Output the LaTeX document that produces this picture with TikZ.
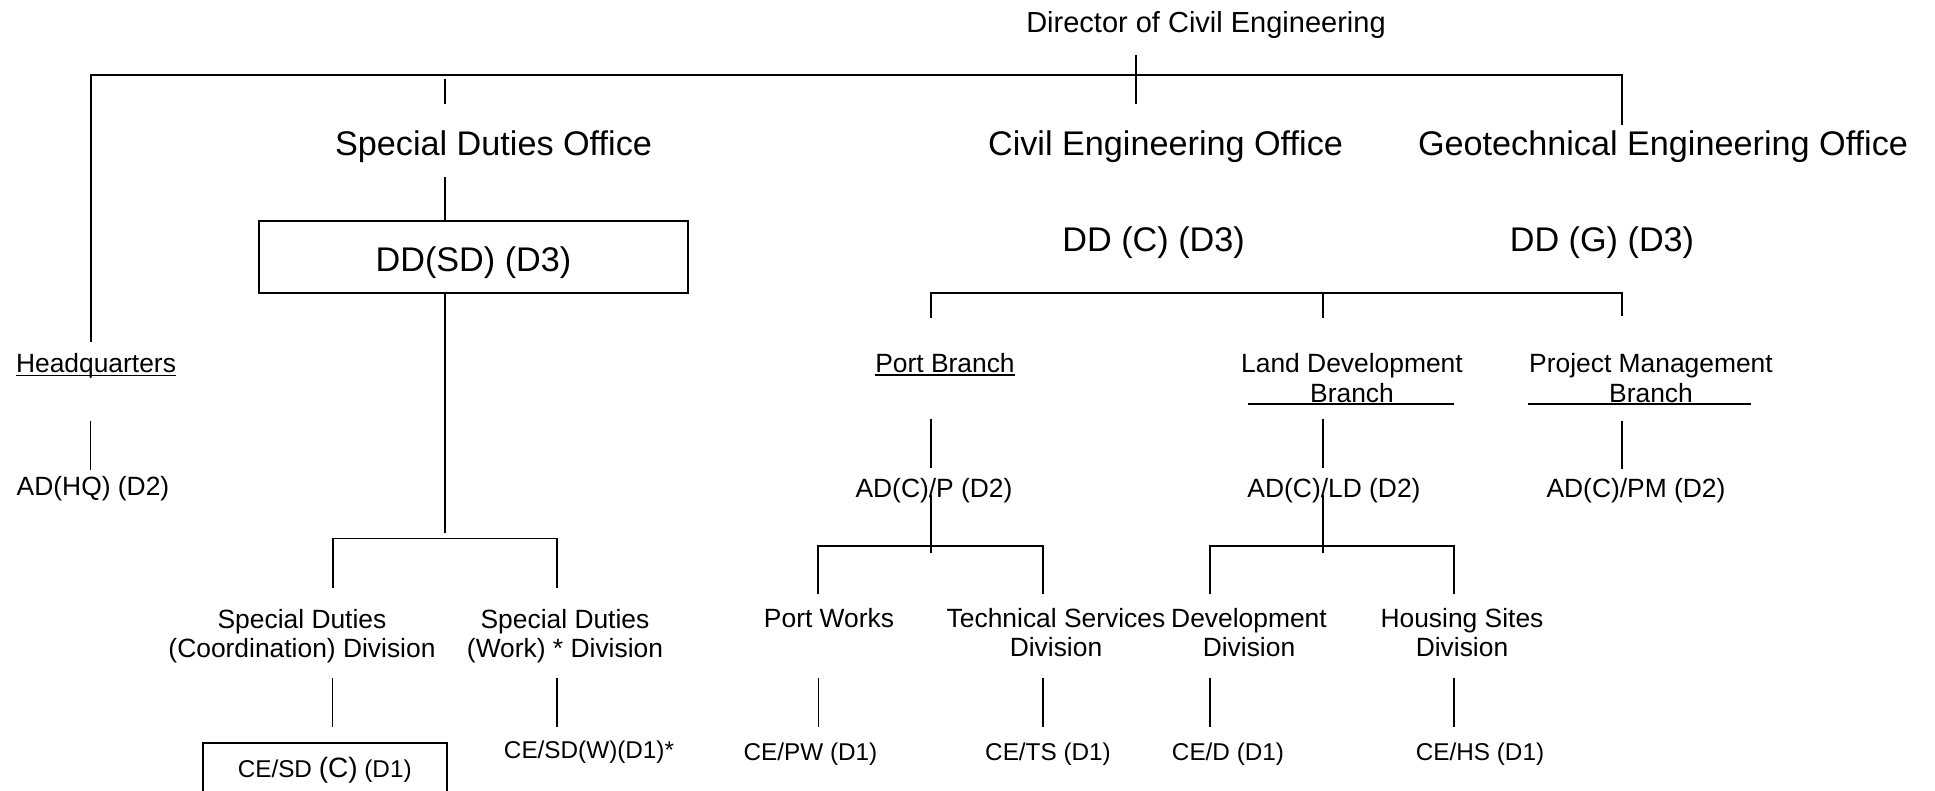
\documentclass[tikz,border=0pt]{standalone}
\usepackage{fontspec}
\setmainfont{Liberation Sans}
\begin{document}
\begin{tikzpicture}[x=1pt,y=-1pt,
  bigt/.style={font=\fontsize{34.2}{40}\selectfont, inner sep=0pt, anchor=base},
  dirt/.style={font=\fontsize{29}{34}\selectfont, inner sep=0pt, anchor=base},
  midt/.style={font=\fontsize{26.4}{29.3}\selectfont, inner sep=0pt, anchor=base},
  smallt/.style={font=\fontsize{24.3}{28}\selectfont, inner sep=0pt, anchor=base},
  conn/.style={line width=1.6pt},
  hconn/.style={line width=1.9pt},
  uline/.style={line width=1.6pt},
  boxed/.style={draw, line width=1.7pt, inner sep=0pt, anchor=base}]
\useasboundingbox (0,0) rectangle (1935,791);
\fill[white] (0,0) rectangle (1935,791);

% ---------- texts ----------
\node[dirt] (dir) at (1206,32.3) {Director of Civil Engineering};
\node[bigt] (sdo) at (493.5,156) {Special Duties Office};
\node[bigt] (ceo) at (1165.5,156) {Civil Engineering Office};
\node[bigt] (geo) at (1663,156) {Geotechnical Engineering Office};
\node[boxed, font=\fontsize{34.2}{40}\selectfont, text height=51.3pt, text depth=20.7pt, minimum width=429pt] (ddsd) at (473.5,272) {DD(SD) (D3)};
\node[bigt] (ddc) at (1153.6,252) {DD (C) (D3)};
\node[bigt] (ddg) at (1602,252) {DD (G) (D3)};

\node[midt] (hq) at (96,373) {Headquarters};
\node[midt] (adhq) at (93,495) {AD(HQ) (D2)};
\node[midt] (pb) at (945,372.7) {Port Branch};
\node[midt] (ld) at (1352,372.7) {\begin{tabular}[t]{@{}c@{}}Land Development\\Branch\end{tabular}};
\node[midt] (pm) at (1651,372.7) {\begin{tabular}[t]{@{}c@{}}Project Management\\Branch\end{tabular}};
\node[midt] (adp) at (934,497) {AD(C)/P (D2)};
\node[midt] (adld) at (1334,497) {AD(C)/LD (D2)};
\node[midt] (adpm) at (1636,497) {AD(C)/PM (D2)};

\node[midt] (sdc) at (302,628.3) {\begin{tabular}[t]{@{}c@{}}Special Duties\\(Coordination) Division\end{tabular}};
\node[midt] (sdw) at (565,628.3) {\begin{tabular}[t]{@{}c@{}}Special Duties\\(Work) * Division\end{tabular}};
\node[midt] (pw) at (829,627.3) {Port Works};
\node[midt] (ts) at (1056,627.3) {\begin{tabular}[t]{@{}c@{}}Technical Services\\Division\end{tabular}};
\node[midt] (dev) at (1249,627.3) {\begin{tabular}[t]{@{}c@{}}Development\\Division\end{tabular}};
\node[midt] (hs) at (1462,627.3) {\begin{tabular}[t]{@{}c@{}}Housing Sites\\Division\end{tabular}};

\node[boxed, font=\fontsize{24.3}{28}\selectfont, text height=34.3pt, text depth=22pt, minimum width=244pt] (cesdc) at (324.7,777) {CE/SD {\fontsize{28}{32}\selectfont(C)} (D1)};
\node[smallt] (cesdw) at (589,758) {CE/SD(W)(D1)*};
\node[smallt] (cepw) at (810.5,760) {CE/PW (D1)};
\node[smallt] (cets) at (1048,760) {CE/TS (D1)};
\node[smallt] (ced) at (1228,760) {CE/D (D1)};
\node[smallt] (ceh) at (1480,760) {CE/HS (D1)};

% ---------- underlines ----------
\draw[uline] ([yshift=-2.5pt]hq.base west) -- ([yshift=-2.5pt]hq.base east);
\draw[uline] ([yshift=-2.5pt]pb.base west) -- ([yshift=-2.5pt]pb.base east);
\coordinate (ldU1) at (1248,404); \coordinate (ldU2) at (1454,404);
\coordinate (pmU1) at (1528,404); \coordinate (pmU2) at (1751,404);
\draw[uline] (ldU1) -- (ldU2);
\draw[uline] (pmU1) -- (pmU2);

% ---------- connector points ----------
\coordinate (topL) at (90.6,75);
\coordinate (topR) at (1622,75);
\coordinate (dirA) at (1136,55);
\coordinate (dirB) at (1136,104);
\coordinate (sdA) at (445,79);
\coordinate (sdB) at (445,104);
\coordinate (geoB) at (1622,125);
\coordinate (sdC) at (445,177);
\coordinate (hqA) at (90.6,341.7);
\coordinate (hqS1) at (90.6,370);
\coordinate (hqS2) at (90.6,378);
\coordinate (hqB1) at (90.6,420.7);
\coordinate (hqB2) at (90.6,470);
\coordinate (sdD) at (445,533);
\coordinate (sbL) at (332.6,538.5);
\coordinate (sbR) at (557,538.5);
\coordinate (sbLd) at (332.6,588);
\coordinate (sbRd) at (557,588);
\coordinate (sdcA) at (332.6,678.3);
\coordinate (sdcB) at (332.6,726.7);
\coordinate (sdwA) at (557,678.3);
\coordinate (sdwB) at (557,726.7);

\coordinate (cbL) at (930.8,293);
\coordinate (cbM) at (1322.8,293);
\coordinate (cbR) at (1622,293);
\coordinate (cbLd) at (930.8,318);
\coordinate (cbMd) at (1322.8,318);
\coordinate (cbRd) at (1622,316);
\coordinate (pbA) at (930.8,419);
\coordinate (pbB) at (930.8,468);
\coordinate (ldA) at (1322.8,419);
\coordinate (ldB) at (1322.8,468);
\coordinate (pmA) at (1622,420.7);
\coordinate (pmB) at (1622,469);
\coordinate (pA) at (930.8,495);
\coordinate (pB) at (930.8,553);
\coordinate (lA) at (1322.8,495);
\coordinate (lB) at (1322.8,553);
\coordinate (pbrL) at (818.3,546);
\coordinate (pbrR) at (1042.9,546);
\coordinate (pbrLd) at (818.3,594);
\coordinate (pbrRd) at (1042.9,594);
\coordinate (lbrL) at (1210,546);
\coordinate (lbrR) at (1453.8,546);
\coordinate (lbrLd) at (1210,594);
\coordinate (lbrRd) at (1453.8,594);
\coordinate (pwA) at (818.3,678.3);   \coordinate (pwB) at (818.3,727.3);
\coordinate (tsA) at (1042.9,678.3);  \coordinate (tsB) at (1042.9,727.3);
\coordinate (devA) at (1210,678.3);   \coordinate (devB) at (1210,727.3);
\coordinate (hsA) at (1453.8,678.3);  \coordinate (hsB) at (1453.8,727.3);

% ---------- connectors ----------
\draw[hconn] (hqA) -- (topL) -- (topR) -- (geoB);
\draw[conn] (dirA) -- (dirB);
\draw[conn] (sdA) -- (sdB);
\draw[conn] (sdC) -- (ddsd.north -| sdC);
\draw[conn] (hqS1) -- (hqS2);
\draw[conn] (hqB1) -- (hqB2);
\draw[conn] (ddsd.south -| sdD) -- (sdD);
\draw[hconn] (sbLd) -- (sbL) -- (sbR) -- (sbRd);
\draw[conn] (sdcA) -- (sdcB);
\draw[conn] (sdwA) -- (sdwB);

\draw[hconn] (cbLd) -- (cbL) -- (cbR) -- (cbRd);
\draw[conn] (cbM) -- (cbMd);
\draw[conn] (pbA) -- (pbB);
\draw[conn] (ldA) -- (ldB);
\draw[conn] (pmA) -- (pmB);
\draw[conn] (pA) -- (pB);
\draw[conn] (lA) -- (lB);
\draw[hconn] (pbrLd) -- (pbrL) -- (pbrR) -- (pbrRd);
\draw[hconn] (lbrLd) -- (lbrL) -- (lbrR) -- (lbrRd);
\draw[conn] (pwA) -- (pwB);
\draw[conn] (tsA) -- (tsB);
\draw[conn] (devA) -- (devB);
\draw[conn] (hsA) -- (hsB);
\end{tikzpicture}
\end{document}
